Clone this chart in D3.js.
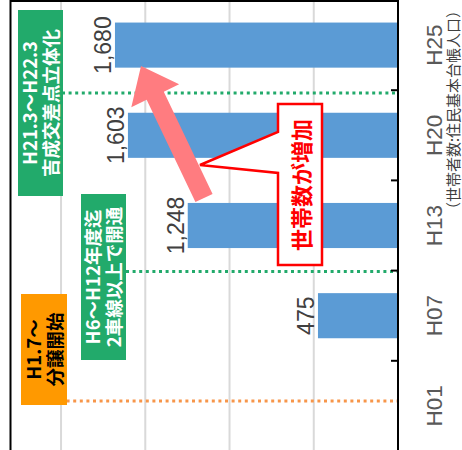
<!DOCTYPE html>
<html><head><meta charset="utf-8">
<script src="https://cdn.jsdelivr.net/npm/d3@7/dist/d3.min.js"></script>
<style>
html,body{margin:0;padding:0;background:#fff;}
svg{display:block;}
</style></head>
<body>
<svg id="chart" width="462" height="450"></svg>
<script>
// ---- data ----
const categories = ["H25", "H20", "H13", "H07", "H01"];
const values = [1680, 1603, 1248, 475, null];
const gridValues = [500, 1000, 1500, 2000];
const axisTitle = "（世帯者数:住民基本台帳人口）";
// annotation lines: category + offset in band steps from centre
const refLines = [
  {cat: "H20", offset: -0.47, color: "#22AA6B", from: 62},
  {cat: "H07", offset: -0.49, color: "#22AA6B", from: 126},
  {cat: "H01", offset: -0.055, color: "#F7964A", from: 60}
];
const labelBoxes = [
  {lines: ["H21.3～H22.3", "吉成交差点立体化"], x: 18, y: 10, w: 45, h: 186, fill: "#22AA6B", color: "#fff"},
  {lines: ["H6～H12年度迄", "2車線以上で開通"], x: 81, y: 194, w: 45, h: 166, fill: "#22AA6B", color: "#fff"},
  {lines: ["H1.7～", "分譲開始"], x: 21, y: 294, w: 46, h: 111, fill: "#FF9900", color: "#000"}
];
const calloutText = "世帯数が増加";

const W = 462, H = 450;
const svg = d3.select("#chart");
svg.append("rect").attr("width", W).attr("height", H).attr("fill", "#fff");

const x = d3.scaleLinear().domain([0, 2300]).range([398, 10.5]);
const y = d3.scaleBand().domain(categories).range([0, 451]).paddingInner(0.5).paddingOuter(0.25);
const step = y.step();
const data = categories.map((c, i) => ({cat: c, v: values[i]}));

// gridlines
svg.append("g").selectAll("line").data(gridValues).join("line")
  .attr("x1", d => x(d)).attr("x2", d => x(d))
  .attr("y1", 0).attr("y2", H)
  .attr("stroke", "#D9D9D9").attr("stroke-width", 2);

// bars
svg.append("g").selectAll("rect").data(data.filter(d => d.v != null)).join("rect")
  .attr("x", d => x(d.v)).attr("width", d => x(0) - x(d.v))
  .attr("y", d => y(d.cat)).attr("height", y.bandwidth())
  .attr("fill", "#5B9BD5");

// reference dotted lines
svg.append("g").selectAll("line").data(refLines).join("line")
  .attr("x1", d => d.from).attr("x2", x(0))
  .attr("y1", d => y(d.cat) + y.bandwidth() / 2 + d.offset * step)
  .attr("y2", d => y(d.cat) + y.bandwidth() / 2 + d.offset * step)
  .attr("stroke", d => d.color).attr("stroke-width", 3)
  .attr("stroke-dasharray", "3,3.6");

// label boxes
const boxes = svg.append("g").selectAll("g").data(labelBoxes).join("g");
boxes.append("rect")
  .attr("x", d => d.x).attr("y", d => d.y).attr("width", d => d.w).attr("height", d => d.h)
  .attr("fill", d => d.fill);
boxes.each(function(d) {
  const g = d3.select(this);
  const cx = d.x + d.w / 2, cy = d.y + d.h / 2;
  d.lines.forEach((t, i) => {
    g.append("text")
      .attr("transform", `translate(${cx + (i - 0.5) * 21 + 7},${cy}) rotate(-90)`)
      .attr("text-anchor", "middle")
      .attr("font-family", "'Noto Sans CJK JP', 'Noto Sans', sans-serif")
      .attr("font-weight", "bold").attr("font-size", 18.5)
      .attr("fill", d.color).text(t);
  });
});

// axis line, ticks and frame
svg.append("line").attr("x1", 10.5).attr("x2", 10.5).attr("y1", 0).attr("y2", H).attr("stroke", "#000").attr("stroke-width", 2);
svg.append("line").attr("x1", 10).attr("x2", 398).attr("y1", 1).attr("y2", 1).attr("stroke", "#000").attr("stroke-width", 2);
svg.append("line").attr("x1", x(0)).attr("x2", x(0)).attr("y1", 0).attr("y2", H).attr("stroke", "#000").attr("stroke-width", 2);
const tickPos = categories.slice(1).map(c => y(c) - (step - y.bandwidth()) / 2);
svg.append("g").selectAll("line").data(tickPos).join("line")
  .attr("x1", x(0) - 7).attr("x2", x(0)).attr("y1", d => d).attr("y2", d => d)
  .attr("stroke", "#000").attr("stroke-width", 2);

// pink arrow
(function() {
  const tail = [204, 198], tip = [141, 66];
  const sw = 19, hw = 53, hl = 33;
  const dx = tip[0] - tail[0], dy = tip[1] - tail[1];
  const L = Math.hypot(dx, dy);
  const u = [dx / L, dy / L], n = [-u[1], u[0]];
  const base = [tip[0] - u[0] * hl, tip[1] - u[1] * hl];
  const p = (pt, k, m) => [pt[0] + n[0] * k + u[0] * m, pt[1] + n[1] * k + u[1] * m];
  const pts = [p(tail, sw / 2, 0), p(base, sw / 2, 0), p(base, hw / 2, 0), tip,
               p(base, -hw / 2, 0), p(base, -sw / 2, 0), p(tail, -sw / 2, 0)];
  svg.append("path").attr("d", d3.line()(pts) + "Z").attr("fill", "#FF7C80");
})();

// callout
svg.append("path")
  .attr("d", "M278,104 L322,104 L322,265 L278,265 L278,173 L200,165 L278,132 Z")
  .attr("fill", "#fff").attr("stroke", "#FF0000").attr("stroke-width", 2.5);
svg.append("text")
  .attr("transform", "translate(310,185) rotate(-90)")
  .attr("text-anchor", "middle")
  .attr("font-family", "'Noto Sans CJK JP', sans-serif")
  .attr("font-weight", "bold").attr("font-size", 22)
  .attr("fill", "#FF0000").text(calloutText);

// value labels
svg.append("g").selectAll("text").data(data.filter(d => d.v != null)).join("text")
  .attr("transform", d => `translate(${x(d.v) - 4},${y(d.cat) + y.bandwidth() / 2}) rotate(-90)`)
  .attr("text-anchor", "middle")
  .attr("font-family", "'Liberation Sans', Arial, sans-serif")
  .attr("font-size", 23).attr("fill", "#404040")
  .text(d => d3.format(",")(d.v));

// category labels
svg.append("g").selectAll("text").data(categories).join("text")
  .attr("transform", d => `translate(442,${y(d) + y.bandwidth() / 2}) rotate(-90)`)
  .attr("text-anchor", "middle")
  .attr("font-family", "'Liberation Sans', Arial, sans-serif")
  .attr("font-size", 22.5).attr("fill", "#595959")
  .text(d => d);

// axis title
svg.append("text")
  .attr("transform", "translate(459,110) rotate(-90)")
  .attr("text-anchor", "middle")
  .attr("font-family", "'Noto Sans CJK JP', sans-serif")
  .attr("font-size", 15).attr("fill", "#404040")
  .text(axisTitle);
</script>
</body></html>
